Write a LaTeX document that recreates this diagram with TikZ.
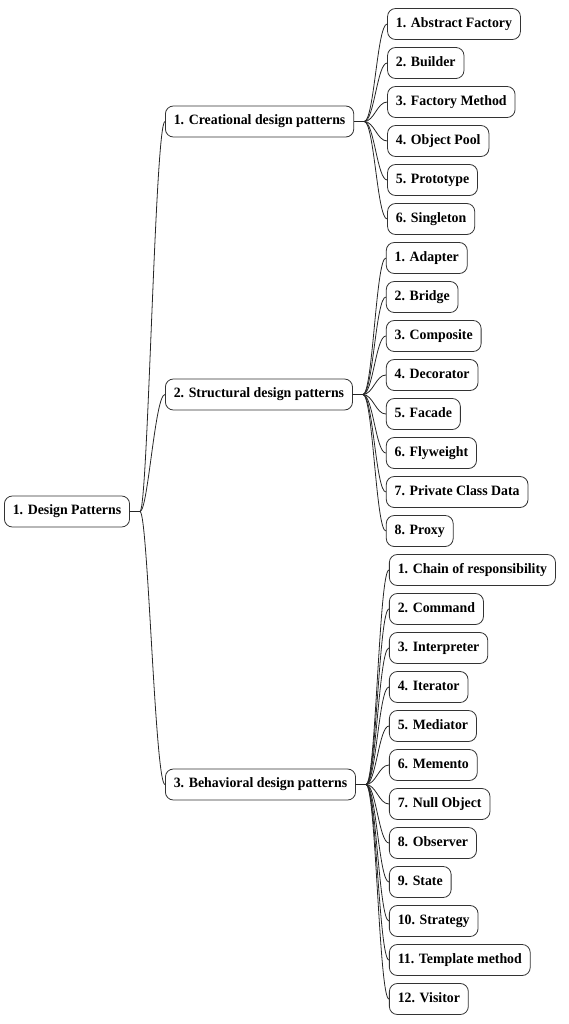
\documentclass[tikz,border=0pt]{standalone}
\usepackage{fontspec}
\setmainfont{Liberation Serif}[FakeStretch=0.97]

\tikzset{
  topic/.style={draw=black!80, fill=white, rounded corners=6pt, line width=0.6pt,
    font=\fontsize{10.7pt}{13pt}\selectfont\bfseries, inner xsep=6.3pt, inner ysep=0pt,
    minimum height=23.25pt, text height=7.7pt, text depth=2.5pt, anchor=west},
  branch/.style={line width=0.6pt, black!85}
}

\begin{document}
\begin{tikzpicture}[x=0.75pt,y=-0.75pt]
  \useasboundingbox (0,0) rectangle (568,1024);
  % Root and main branches
  \node[topic] (dp) at (4,511.5) {1. Design Patterns};
  \node[topic] (cre) at (165,121.5) {1. Creational design patterns};
  \node[topic] (str) at (165,394.5) {2. Structural design patterns};
  \node[topic] (beh) at (165,784.5) {3. Behavioral design patterns};
  \foreach \grp in {cre,str,beh}
    \draw[branch] (dp.east) -- ++(10,0) .. controls +(8,0) and +(-10,0) .. (\grp.west);
  % Creational patterns
  \path (cre.east) ++(33,0) coordinate (crex);
  \foreach \i/\name [evaluate=\i as \y using 24+39*(\i-1)] in {1/Abstract Factory,2/Builder,3/Factory Method,4/Object Pool,5/Prototype,6/Singleton} {
    \node[topic] (cre\i) at (crex |- 0,\y) {\i. \name};
    \draw[branch] (cre.east) -- ++(10,0) .. controls +(10,0) and +(-10,0) .. (cre\i.west);
  }
  % Structural patterns
  \path (str.east) ++(33,0) coordinate (strx);
  \foreach \i/\name [evaluate=\i as \y using 24+39*(\i+5)] in {1/Adapter,2/Bridge,3/Composite,4/Decorator,5/Facade,6/Flyweight,7/Private Class Data,8/Proxy} {
    \node[topic] (str\i) at (strx |- 0,\y) {\i. \name};
    \draw[branch] (str.east) -- ++(10,0) .. controls +(10,0) and +(-10,0) .. (str\i.west);
  }
  % Behavioral patterns
  \path (beh.east) ++(33,0) coordinate (behx);
  \foreach \i/\name [evaluate=\i as \y using 24+39*(\i+13)] in {1/Chain of responsibility,2/Command,3/Interpreter,4/Iterator,5/Mediator,6/Memento,7/Null Object,8/Observer,9/State,10/Strategy,11/Template method,12/Visitor} {
    \node[topic] (beh\i) at (behx |- 0,\y) {\i. \name};
    \draw[branch] (beh.east) -- ++(10,0) .. controls +(10,0) and +(-10,0) .. (beh\i.west);
  }
\end{tikzpicture}
\end{document}
